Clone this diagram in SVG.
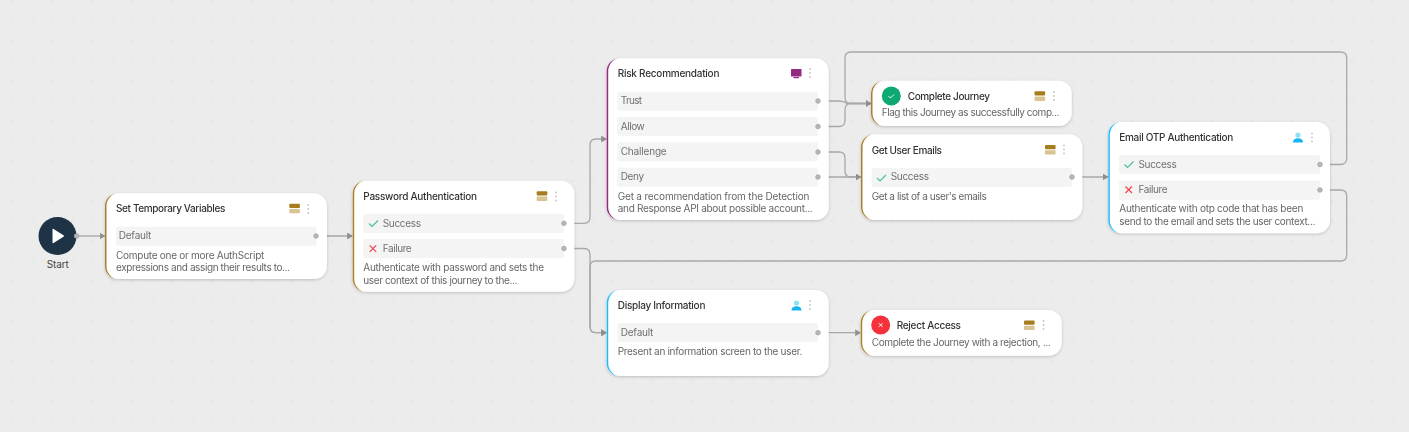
<svg xmlns="http://www.w3.org/2000/svg" xmlns:xlink="http://www.w3.org/1999/xlink" width="1409" height="432" viewBox="0 0 1409 432">
<style>
text{font-family:"Inter","Liberation Sans",sans-serif}
.t{font-size:10px;font-weight:500;fill:#333}
.d{font-size:10px;fill:#666}
.r{font-size:10px;fill:#707070}
.s{fill:#f4f4f4}
.c{fill:none;stroke:#a8a8a8;stroke-width:1.300}
.p{fill:#b8b8b8;stroke:#9c9c9c;stroke-width:.7}
.card{fill:#fff}
.gold{fill:#a9822a}.blue{fill:#1cbcf5}.pur{fill:#94297f}
.ok{fill:none;stroke:#47c298;stroke-width:1.200}
.no{fill:none;stroke:#f0434c;stroke-width:1.200}
</style>
<defs>
<pattern id="dots" width="20" height="20" patternUnits="userSpaceOnUse" x="2" y="-9.300">
<rect x="9" y="9" width="2.400" height="2.400" fill="#e6e6e6"/>
</pattern>
<filter id="sh" x="-5%" y="-10%" width="110%" height="125%">
<feDropShadow dx="0" dy="1" stdDeviation="1.500" flood-color="#000" flood-opacity=".2"/>
</filter>
<marker id="a" markerUnits="userSpaceOnUse" markerWidth="7" markerHeight="8" refX="5.500" refY="3.500" orient="auto">
<path d="M0 0L5.500 3.500L0 7Z" fill="#8f8f8f"/>
</marker>
<g id="srv"><rect x="0" y="0" width="10.600" height="4.300" rx="1" fill="#a67c1f"/><rect x="0" y="5.300" width="10.600" height="4.300" rx="1" fill="#d8c491"/></g>
<g id="keb" fill="#c2c2c2"><circle cx="0" cy="0" r=".9"/><circle cx="0" cy="4" r=".9"/><circle cx="0" cy="8" r=".9"/></g>
<g id="usr"><circle cx="5" cy="2.600" r="2.600" fill="#8fe0fb"/><path d="M0 10C0 7 2 5.700 5 5.700S10 7 10 10Z" fill="#14b4f2"/></g>
<path id="chk" d="M0 3.500L3 6.500L9 .5"/>
<path id="crs" d="M0 0L6.500 6.500M6.500 0L0 6.500"/>
</defs>
<rect width="1409" height="432" fill="#ececec"/>
<rect width="1409" height="432" fill="url(#dots)"/>

<g id="connectors">
<path class="c" marker-end="url(#a)" d="M76.500 236H105"/>
<path class="c" marker-end="url(#a)" d="M316 236H352.700"/>
<path class="c" marker-end="url(#a)" d="M564 223.300H584Q590 223.300 590 217.300V145Q590 139 596 139H606.700"/>
<path class="c" marker-end="url(#a)" d="M564 248.500H584Q590 248.500 590 254.500V326.500Q590 332.700 596 332.700H606.700"/>
<path class="c" marker-end="url(#a)" d="M1320 190H1340.500Q1346.700 190 1346.700 196V255Q1346.700 261 1340.500 261H596Q590 261 590 267V326.500Q590 332.700 596 332.700H606.700"/>
<path class="c" marker-end="url(#a)" d="M1320 164.500H1340.500Q1346.700 164.500 1346.700 158.500V58Q1346.700 52 1340.500 52H851Q845 52 845 58V97.500Q845 103.500 851 103.500H871"/>
<path class="c" marker-end="url(#a)" d="M818 101H838Q844 101 847 103.500H871"/>
<path class="c" marker-end="url(#a)" d="M818 126.500H839Q845 126.500 845 120.500V109.500Q845 103.500 851 103.500H871"/>
<path class="c" marker-end="url(#a)" d="M818 152H839Q845 152 845 158V171Q845 177 851 177H861"/>
<path class="c" marker-end="url(#a)" d="M818 177H861"/>
<path class="c" marker-end="url(#a)" d="M1072 177H1108.300"/>
<path class="c" marker-end="url(#a)" d="M818 332.700H860.700"/>
</g>

<g id="start">
<circle cx="57.500" cy="236" r="19" fill="#1f3347"/>
<path d="M52.500 229.500Q52.500 228.500 53.500 229L63.500 235.200Q64.500 236 63.500 236.800L53.500 243Q52.500 243.500 52.500 242.500Z" fill="#fff"/>
<circle class="p" cx="76.500" cy="236" r="2.300"/>
<text x="46.700" y="268" textLength="22" font-size="10" fill="#444">Start</text>
</g>

<g id="set-temporary-variables" filter="url(#sh)">
<rect class="card" x="105" y="193.300" width="222" height="85.700" rx="13"/>
<path class="gold" d="M118 193.300A13 13 0 0 0 105 206.300V266A13 13 0 0 0 118 279A12 13 0 0 1 106.500 266V206.300A12 13 0 0 1 118 193.300Z"/>
<text class="t" x="116" y="212" textLength="109.300">Set Temporary Variables</text>
<use xlink:href="#srv" x="289.300" y="203.700"/><use xlink:href="#keb" x="308.300" y="205"/>
<rect class="s" x="116" y="226.700" width="200.500" height="19" rx="2"/>
<text class="r" x="118.700" y="239.300" textLength="32.700">Default</text>
<circle class="p" cx="316" cy="236" r="2.300"/>
<text class="d" x="116" y="258.500" textLength="148.300">Compute one or more AuthScript</text>
<text class="d" x="116" y="271" textLength="174">expressions and assign their results to...</text>
</g>

<g id="password-authentication" filter="url(#sh)">
<rect class="card" x="352.700" y="180.700" width="221.600" height="111" rx="13"/>
<path class="gold" d="M365.700 180.700A13 13 0 0 0 352.700 193.700V278.700A13 13 0 0 0 365.700 291.700A12 13 0 0 1 354.200 278.700V193.700A12 13 0 0 1 365.700 180.700Z"/>
<text class="t" x="363.300" y="200" textLength="113.700">Password Authentication</text>
<use xlink:href="#srv" x="536.700" y="191.300"/><use xlink:href="#keb" x="556" y="192.500"/>
<rect class="s" x="363.300" y="214" width="200.700" height="19" rx="2"/>
<use xlink:href="#chk" class="ok" x="369" y="220"/>
<text class="r" x="382.700" y="227.300" textLength="38.300">Success</text>
<circle class="p" cx="564" cy="223.300" r="2.300"/>
<rect class="s" x="363.300" y="239" width="200.700" height="19" rx="2"/>
<use xlink:href="#crs" class="no" x="369.700" y="245.300"/>
<text class="r" x="382.700" y="252.300" textLength="29">Failure</text>
<circle class="p" cx="564" cy="248.500" r="2.300"/>
<text class="d" x="363.300" y="271" textLength="180.700">Authenticate with password and sets the</text>
<text class="d" x="363.300" y="283.700" textLength="154">user context of this journey to the...</text>
</g>

<g id="risk-recommendation" filter="url(#sh)">
<rect class="card" x="606.700" y="58.300" width="222" height="161.700" rx="13"/>
<path class="pur" d="M619.700 58.300A13 13 0 0 0 606.700 71.300V207A13 13 0 0 0 619.700 220A12 13 0 0 1 608.200 207V71.300A12 13 0 0 1 619.700 58.300Z"/>
<text class="t" x="617.700" y="77" textLength="101.700">Risk Recommendation</text>
<g class="pur"><rect x="791" y="69" width="10.500" height="7.500" rx=".6"/><rect x="793.500" y="77" width="5.500" height="1.200"/></g>
<use xlink:href="#keb" x="810" y="69"/>
<rect class="s" x="617.300" y="91.700" width="200.700" height="19" rx="2"/>
<text class="r" x="620.700" y="104.300" textLength="21.300">Trust</text>
<circle class="p" cx="818" cy="101" r="2.300"/>
<rect class="s" x="617.300" y="117" width="200.700" height="19" rx="2"/>
<text class="r" x="620.700" y="130" textLength="24">Allow</text>
<circle class="p" cx="818" cy="126.500" r="2.300"/>
<rect class="s" x="617.300" y="142.300" width="200.700" height="19" rx="2"/>
<text class="r" x="620.700" y="155.300" textLength="46">Challenge</text>
<circle class="p" cx="818" cy="152" r="2.300"/>
<rect class="s" x="617.300" y="167.700" width="200.700" height="19" rx="2"/>
<text class="r" x="620.700" y="180" textLength="23.300">Deny</text>
<circle class="p" cx="818" cy="177" r="2.300"/>
<text class="d" x="617.700" y="200.300" textLength="191.700">Get a recommendation from the Detection</text>
<text class="d" x="617.700" y="212" textLength="195">and Response API about possible account...</text>
</g>

<g id="complete-journey" filter="url(#sh)">
<rect class="card" x="871" y="80.700" width="200.700" height="45.300" rx="13"/>
<path class="gold" d="M884 80.700A13 13 0 0 0 871 93.700V113A13 13 0 0 0 884 126A12 13 0 0 1 872.500 113V93.700A12 13 0 0 1 884 80.700Z"/>
<circle cx="891.300" cy="96" r="9.500" fill="#10a96f"/>
<path d="M888.500 96L890.500 98L894 94.500" fill="none" stroke="#fff" stroke-width=".9"/>
<text class="t" x="907.700" y="100" textLength="82.300">Complete Journey</text>
<use xlink:href="#srv" x="1034.500" y="91.300"/><use xlink:href="#keb" x="1054" y="92"/>
<text class="d" x="881.700" y="116.300" textLength="177.700">Flag this Journey as successfully comp...</text>
</g>

<g id="get-user-emails" filter="url(#sh)">
<rect class="card" x="861" y="134.300" width="221.300" height="85.700" rx="13"/>
<path class="gold" d="M874 134.300A13 13 0 0 0 861 147.300V207A13 13 0 0 0 874 220A12 13 0 0 1 862.500 207V147.300A12 13 0 0 1 874 134.300Z"/>
<text class="t" x="871.700" y="154" textLength="70.300">Get User Emails</text>
<use xlink:href="#srv" x="1045" y="145"/><use xlink:href="#keb" x="1064" y="145.500"/>
<rect class="s" x="871.700" y="168" width="200.300" height="19" rx="2"/>
<use xlink:href="#chk" class="ok" x="877" y="174.500"/>
<text class="r" x="890.700" y="180.300" textLength="38.300">Success</text>
<circle class="p" cx="1072" cy="177" r="2.300"/>
<text class="d" x="871.700" y="200.300" textLength="115">Get a list of a user's emails</text>
</g>

<g id="email-otp-authentication" filter="url(#sh)">
<rect class="card" x="1108.300" y="122" width="221.700" height="111.300" rx="13"/>
<path class="blue" d="M1121.300 122A13 13 0 0 0 1108.300 135V220.300A13 13 0 0 0 1121.300 233.300A12 13 0 0 1 1109.800 220.300V135A12 13 0 0 1 1121.300 122Z"/>
<text class="t" x="1119.300" y="141" textLength="114">Email OTP Authentication</text>
<use xlink:href="#usr" x="1293" y="132.500"/><use xlink:href="#keb" x="1312" y="133.500"/>
<rect class="s" x="1119" y="155" width="201" height="19" rx="2"/>
<use xlink:href="#chk" class="ok" x="1124.500" y="161"/>
<text class="r" x="1138.500" y="168.300" textLength="38.300">Success</text>
<circle class="p" cx="1320" cy="164.500" r="2.300"/>
<rect class="s" x="1119" y="180.700" width="201" height="19" rx="2"/>
<use xlink:href="#crs" class="no" x="1125.500" y="186.500"/>
<text class="r" x="1138.500" y="193.300" textLength="29">Failure</text>
<circle class="p" cx="1320" cy="190" r="2.300"/>
<text class="d" x="1119.300" y="212.300" textLength="184">Authenticate with otp code that has been</text>
<text class="d" x="1119.300" y="225" textLength="196">send to the email and sets the user context...</text>
</g>

<g id="display-information" filter="url(#sh)">
<rect class="card" x="606.700" y="290" width="222" height="86" rx="13"/>
<path class="blue" d="M619.700 290A13 13 0 0 0 606.700 303V363A13 13 0 0 0 619.700 376A12 13 0 0 1 608.200 363V303A12 13 0 0 1 619.700 290Z"/>
<text class="t" x="617.700" y="309" textLength="87.700">Display Information</text>
<use xlink:href="#usr" x="791.500" y="300.500"/><use xlink:href="#keb" x="810" y="301"/>
<rect class="s" x="617.300" y="323" width="200.700" height="19" rx="2"/>
<text class="r" x="620.700" y="336" textLength="32.700">Default</text>
<circle class="p" cx="818" cy="332.700" r="2.300"/>
<text class="d" x="617.700" y="355" textLength="184.700">Present an information screen to the user.</text>
</g>

<g id="reject-access" filter="url(#sh)">
<rect class="card" x="860.700" y="310" width="201" height="45.700" rx="13"/>
<path class="gold" d="M873.700 310A13 13 0 0 0 860.700 323V342.700A13 13 0 0 0 873.700 355.700A12 13 0 0 1 862.200 342.700V323A12 13 0 0 1 873.700 310Z"/>
<circle cx="880.700" cy="325" r="9.500" fill="#f5303a"/>
<path d="M878.800 323.100L882.600 326.900M882.600 323.100L878.800 326.900" fill="none" stroke="#fff" stroke-width=".9"/>
<text class="t" x="896.700" y="329" textLength="64.300">Reject Access</text>
<use xlink:href="#srv" x="1024" y="320.500"/><use xlink:href="#keb" x="1043.500" y="321"/>
<text class="d" x="871.700" y="346" textLength="179">Complete the Journey with a rejection, ...</text>
</g>
</svg>
